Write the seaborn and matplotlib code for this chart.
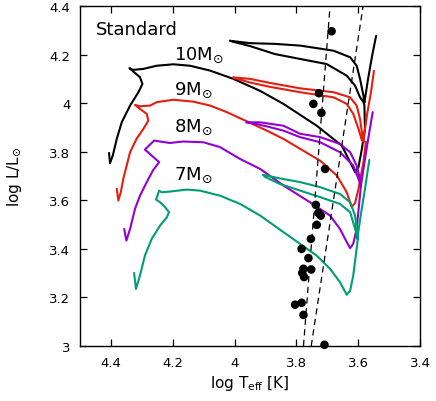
import matplotlib
matplotlib.use("Agg")
import matplotlib.pyplot as plt
import seaborn as sns

# evolutionary tracks: log Teff, log L/Lsun
t10 = [4.406, 4.403, 4.394, 4.381, 4.365, 4.338, 4.311, 4.298, 4.306, 4.322,
       4.340, 4.328, 4.295, 4.252, 4.198, 4.144, 4.079, 4.004, 3.918, 3.842,
       3.734, 3.653, 3.626, 3.610, 3.599, 3.588, 3.578, 3.580, 3.583, 3.594,
       3.610, 3.637, 3.702, 3.788, 3.869, 3.950, 4.008, 4.015, 3.950, 3.869,
       3.788, 3.680, 3.626, 3.605, 3.594, 3.583, 3.580, 3.568, 3.555, 3.542]
l10 = [3.795, 3.753, 3.784, 3.853, 3.921, 3.990, 4.045, 4.079, 4.107, 4.124,
       4.144, 4.137, 4.141, 4.154, 4.160, 4.154, 4.134, 4.100, 4.051, 3.997,
       3.907, 3.825, 3.757, 3.716, 3.737, 3.812, 3.894, 3.993, 4.004, 4.024,
       4.072, 4.113, 4.161, 4.182, 4.202, 4.235, 4.254, 4.257, 4.247, 4.244,
       4.237, 4.216, 4.189, 4.154, 4.100, 4.031, 4.001, 4.100, 4.194, 4.277]

t9 = [4.381, 4.376, 4.368, 4.360, 4.349, 4.338, 4.317, 4.295, 4.279, 4.284,
      4.306, 4.322, 4.306, 4.273, 4.252, 4.198, 4.133, 4.079, 4.025, 3.950,
      3.896, 3.842, 3.788, 3.723, 3.669, 3.637, 3.621, 3.610, 3.599, 3.583,
      3.575, 3.588, 3.599, 3.616, 3.637, 3.680, 3.788, 3.885, 3.950, 3.998,
      4.005, 3.950, 3.885, 3.788, 3.680, 3.626, 3.605, 3.594, 3.588, 3.583,
      3.571, 3.558, 3.549]
l9 = [3.647, 3.599, 3.633, 3.688, 3.743, 3.798, 3.853, 3.894, 3.928, 3.956,
      3.976, 3.993, 3.987, 3.990, 4.004, 4.014, 4.006, 3.990, 3.963, 3.919,
      3.887, 3.853, 3.812, 3.763, 3.702, 3.633, 3.572, 3.589, 3.647, 3.757,
      3.840, 3.846, 3.894, 3.956, 3.997, 4.024, 4.045, 4.067, 4.085, 4.102,
      4.106, 4.100, 4.083, 4.061, 4.045, 4.024, 3.990, 3.935, 3.880, 3.846,
      3.956, 4.050, 4.133]

t8 = [4.357, 4.350, 4.338, 4.322, 4.306, 4.284, 4.263, 4.244, 4.290, 4.260,
      4.241, 4.209, 4.166, 4.101, 4.047, 3.982, 3.917, 3.842, 3.756, 3.691,
      3.659, 3.637, 3.626, 3.616, 3.605, 3.591, 3.599, 3.616, 3.659, 3.723,
      3.788, 3.842, 3.901, 3.957, 3.961, 3.917, 3.842, 3.788, 3.723, 3.659,
      3.626, 3.605, 3.594, 3.591, 3.578, 3.565, 3.553]
l8 = [3.482, 3.434, 3.482, 3.565, 3.619, 3.675, 3.725, 3.757, 3.809, 3.846,
      3.842, 3.836, 3.842, 3.839, 3.819, 3.770, 3.729, 3.661, 3.592, 3.537,
      3.482, 3.428, 3.403, 3.421, 3.482, 3.661, 3.688, 3.743, 3.798, 3.839,
      3.860, 3.887, 3.906, 3.921, 3.921, 3.921, 3.907, 3.874, 3.860, 3.832,
      3.798, 3.743, 3.688, 3.661, 3.770, 3.873, 3.963]

t7 = [4.325, 4.319, 4.306, 4.290, 4.268, 4.241, 4.219, 4.212, 4.225, 4.241,
      4.254, 4.244, 4.236, 4.209, 4.155, 4.112, 4.047, 3.982, 3.917, 3.842,
      3.734, 3.691, 3.659, 3.637, 3.626, 3.616, 3.605, 3.601, 3.605, 3.610,
      3.626, 3.659, 3.723, 3.788, 3.853, 3.901, 3.908, 3.853, 3.788, 3.723,
      3.659, 3.626, 3.610, 3.605, 3.603, 3.591, 3.578, 3.564]
l7 = [3.301, 3.235, 3.290, 3.372, 3.441, 3.496, 3.530, 3.551, 3.572, 3.592,
      3.603, 3.640, 3.633, 3.636, 3.644, 3.640, 3.619, 3.585, 3.537, 3.469,
      3.372, 3.318, 3.263, 3.211, 3.228, 3.290, 3.400, 3.441, 3.462, 3.482,
      3.551, 3.585, 3.613, 3.640, 3.667, 3.696, 3.705, 3.690, 3.675, 3.654,
      3.626, 3.592, 3.537, 3.482, 3.441, 3.544, 3.647, 3.766]

# observed cepheids
cep_t = [3.686, 3.727, 3.745, 3.719, 3.707, 3.737, 3.729, 3.721, 3.734, 3.753,
         3.783, 3.761, 3.777, 3.752, 3.781, 3.775, 3.804, 3.783, 3.777, 3.709]
cep_l = [4.296, 4.041, 3.997, 3.960, 3.729, 3.581, 3.548, 3.537, 3.499, 3.441,
         3.400, 3.362, 3.318, 3.315, 3.301, 3.284, 3.170, 3.178, 3.128, 3.005]

# instability strip edges
strip_l = [3.0, 4.4]
blue_edge_t = [3.777, 3.691]
red_edge_t = [3.752, 3.584]

masses = ["10", "9", "8", "7"]
label_l = [4.202, 4.056, 3.903, 3.706]

sns.set_style("ticks", {"text.color": "black", "axes.labelcolor": "black",
                        "xtick.color": "black", "ytick.color": "black",
                        "axes.edgecolor": "black"})
plt.rcParams['font.family'] = ['DejaVu Sans']

fig = plt.figure(figsize=(4.36, 4.02), dpi=100)
ax = fig.add_axes([80/436, 1-347/402, 340/436, 340/402])

tracks = [(t10, l10, "black"), (t9, l9, "#e51e10"),
          (t8, l8, "#9400d3"), (t7, l7, "#009e73")]
for tt, ll, c in tracks:
    sns.lineplot(x=tt, y=ll, sort=False, estimator=None, color=c,
                 lw=1.5, ax=ax, solid_joinstyle='round')

for et in [blue_edge_t, red_edge_t]:
    sns.lineplot(x=et, y=strip_l, sort=False, estimator=None, color="black",
                 lw=0.9, linestyle=(0, (5, 3.5)), ax=ax)

sns.scatterplot(x=cep_t, y=cep_l, color="black", s=38, edgecolor="none",
                ax=ax, zorder=5, clip_on=False)

ax.text(4.448, 4.305, "Standard", fontsize=13, ha="left", va="center")
for m, yl in zip(masses, label_l):
    ax.text(4.197, yl, m + r"M$_{\odot}$", fontsize=13, ha="left", va="center")

ax.set_xlim(4.5, 3.4)
ax.set_ylim(3.0, 4.4)
ax.set_xticks([4.4, 4.2, 4.0, 3.8, 3.6, 3.4])
ax.set_xticklabels(["4.4", "4.2", "4", "3.8", "3.6", "3.4"])
ax.set_yticks([3.0, 3.2, 3.4, 3.6, 3.8, 4.0, 4.2, 4.4])
ax.set_yticklabels(["3", "3.2", "3.4", "3.6", "3.8", "4", "4.2", "4.4"])
ax.tick_params(direction="in", top=True, right=True, length=5, width=0.9,
               labelsize=9.5, pad=7)
for sp in ax.spines.values():
    sp.set_linewidth(1.0)

ax.set_xlabel(r"log T$_{\rm eff}$ [K]", fontsize=11, labelpad=3)
ax.set_ylabel(r"log L/L$_{\odot}$", fontsize=11, labelpad=18)

fig.savefig("out.png", dpi=100)
